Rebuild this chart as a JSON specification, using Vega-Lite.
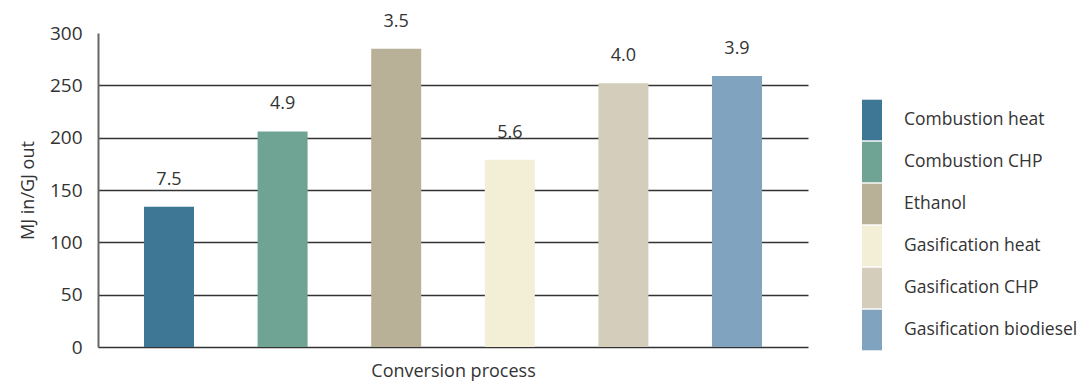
{
  "$schema": "https://vega.github.io/schema/vega-lite/v6.json",
  "width": 710,
  "height": 314,
  "autosize": {"type": "none"},
  "padding": {"left": 98, "top": 33, "right": 279, "bottom": 36},
  "background": "white",
  "config": {
    "view": {"stroke": null},
    "font": "Open Sans"
  },
  "data": {
    "values": [
      {"process": "Combustion heat", "value": 134, "label": "7.5"},
      {"process": "Combustion CHP", "value": 206, "label": "4.9"},
      {"process": "Ethanol", "value": 285, "label": "3.5"},
      {"process": "Gasification heat", "value": 179, "label": "5.6"},
      {"process": "Gasification CHP", "value": 252, "label": "4.0"},
      {"process": "Gasification biodiesel", "value": 259, "label": "3.9"}
    ]
  },
  "encoding": {
    "x": {
      "field": "process",
      "type": "nominal",
      "sort": null,
      "scale": {"paddingInner": 0.56, "paddingOuter": 0.405},
      "axis": {
        "title": "Conversion process",
        "labels": false,
        "ticks": false,
        "domainColor": "#333333",
        "domainWidth": 1.5,
        "titleFontSize": 18,
        "titleFontWeight": "normal",
        "titleColor": "#333333",
        "titlePadding": 15
      }
    },
    "y": {
      "field": "value",
      "type": "quantitative",
      "scale": {"domain": [0, 300], "nice": false},
      "axis": {
        "title": "MJ in/GJ out",
        "values": [0, 50, 100, 150, 200, 250, 300],
        "ticks": false,
        "labelFontSize": 19,
        "labelColor": "#333333",
        "labelPadding": 16,
        "domainColor": "#666666",
        "domainWidth": 2,
        "grid": true,
        "gridColor": "#333333",
        "gridWidth": 1.5,
        "gridOpacity": {"condition": {"test": "datum.value == 300 || datum.value == 0", "value": 0}, "value": 1},
        "titleFontSize": 18,
        "titleFontWeight": "normal",
        "titleColor": "#333333",
        "titlePadding": 12
      }
    }
  },
  "layer": [
    {
      "mark": {"type": "bar"},
      "encoding": {
        "color": {
          "field": "process",
          "type": "nominal",
          "sort": null,
          "scale": {
            "domain": ["Combustion heat", "Combustion CHP", "Ethanol", "Gasification heat", "Gasification CHP", "Gasification biodiesel"],
            "range": ["#3e7696", "#6fa394", "#b8b097", "#f3eed6", "#d5cdbb", "#80a4bf"]
          },
          "legend": {
            "title": null,
            "orient": "none",
            "legendX": 764,
            "legendY": 77,
            "symbolType": "M-1,-2.03H1V2.03H-1Z",
            "symbolSize": 400,
            "symbolStrokeWidth": 0,
            "symbolOpacity": 1,
            "rowPadding": 0,
            "labelFontSize": 17.5,
            "labelColor": "#333333",
            "labelOffset": 22,
            "labelLimit": 300
          }
        }
      }
    },
    {
      "mark": {"type": "text", "baseline": "bottom", "dy": -18, "fontSize": 18, "color": "#333333"},
      "encoding": {"text": {"field": "label", "type": "nominal"}}
    }
  ]
}
